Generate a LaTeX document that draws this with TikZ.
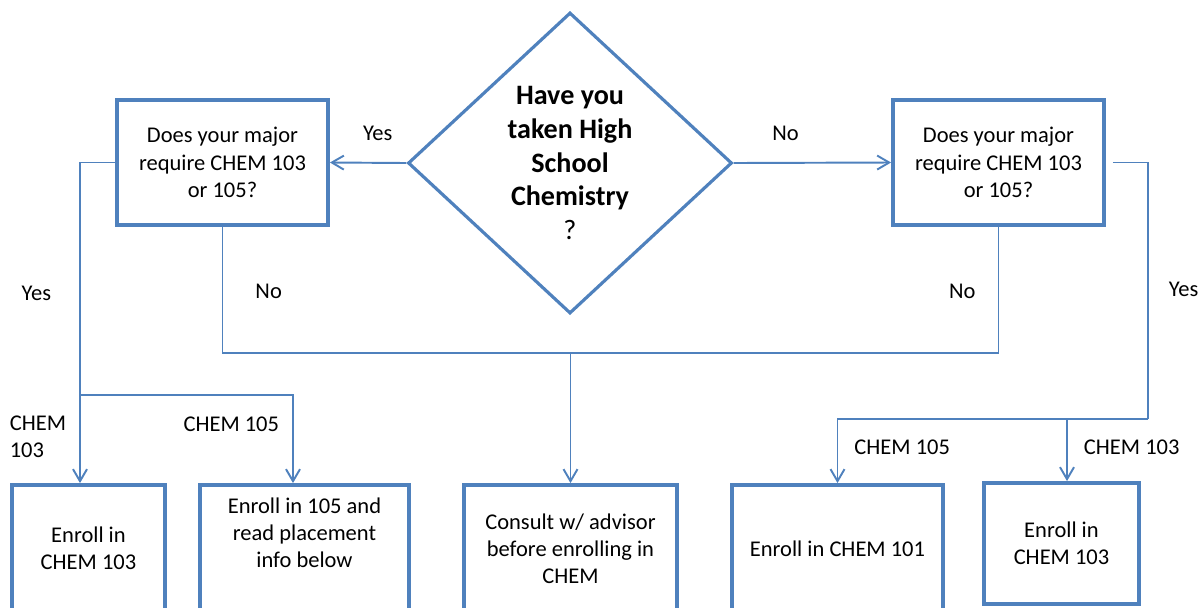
\documentclass[tikz,border=0pt]{standalone}
\usepackage{fontspec}
\setmainfont{Carlito}
\usetikzlibrary{shapes.geometric, positioning, arrows.meta, calc}
\definecolor{flowblue}{HTML}{4F81BD}

\begin{document}
\begin{tikzpicture}[
  every node/.style={font=\fontsize{12.8}{15.5}\selectfont},
  question/.style={draw=flowblue, line width=1.8pt, diamond, aspect=1.076,
                   minimum width=6.48cm, minimum height=6.02cm, inner sep=0pt,
                   align=center, font=\fontsize{16}{19.2}\selectfont\bfseries},
  ask/.style     ={draw=flowblue, line width=2.2pt, rectangle, align=center,
                   minimum width=4.22cm, minimum height=2.5cm, inner sep=2pt},
  result/.style  ={draw=flowblue, line width=2.2pt, rectangle, align=center,
                   minimum height=2.54cm, inner sep=2pt},
  link/.style    ={draw=flowblue, line width=1.1pt},
  arr/.style     ={link, -{Straight Barb[length=2.4mm, width=2.8mm]}},
  lbl/.style     ={inner sep=0pt, text depth=0pt},
]

%% ---- page: 1201 x 607 px, 1 px = 0.02 cm ----
\useasboundingbox (0,0) rectangle (24.02,-12.14);
\clip (0,0) rectangle (24.02,-12.14);

%% ---- y layout (cm) ----
%%  -3.25  HS / qL / qR
%%  -7.06  jN  (No branches meet)
%%  -7.90  jL  (left Yes split)
%%  -8.38  jR  (right Yes split)
%% -10.97  result boxes (cut by the page edge)

%% ---- Decision: high school chemistry ----
\node[question] (HS) at (11.40,-3.26)
  {Have you\\taken High\\School\\Chemistry\\{\mdseries ?}};

%% ---- Decision: major ----
\node[ask] (qL) at ( 4.45,-3.25) {Does your major\\require CHEM 103\\or 105?};
\node[ask] (qR) at (19.97,-3.25) {Does your major\\require CHEM 103\\or 105?};
\draw[arr] (HS.west) -- node[lbl, pos=0.375, above=4.2mm] (yesHS) {Yes} (qL.east);
\draw[arr] (HS.east) -- node[lbl, pos=0.33,  above=4.2mm] (noHS)  {No}  (qR.west);

%% ---- Results ----
\node[result, minimum width=3.06cm] (enL) at ( 1.77,-10.97)
  {Enroll in\\CHEM 103};
\node[result, minimum width=4.18cm] (en105) at ( 6.09,-10.97)
  {Enroll in 105 and\\read placement\\info below\rule[-18pt]{0pt}{18pt}};
\node[result, minimum width=4.26cm] (consult) at (11.41,-10.97)
  {Consult w/ advisor\\before enrolling in\\CHEM};
\node[result, minimum width=4.22cm] (en101) at (16.75,-10.97)
  {Enroll in CHEM 101};
\node[result, minimum width=3.10cm, minimum height=2.42cm] (enR) at (21.23,-10.87)
  {Enroll in\\CHEM 103};

%% ---- Left: Yes ----
\coordinate (jL) at (1.60,-7.90);
\coordinate (d105) at ([xshift=-2.3mm]en105.north);
\draw[link] (qL.west) -| node[lbl, pos=0.782, left=5.6mm] (yesL) {Yes} (jL);
\draw[arr] (jL) -- node[lbl, align=left, pos=0.47, left=2.6mm] (c103L) {CHEM\\103}
  (jL |- enL.north);
\draw[arr] (jL) -| node[lbl, pos=0.664, left=2.6mm] (c105L) {CHEM 105} (d105);

%% ---- No: both sides to advisor ----
\coordinate (jN) at (11.41,-7.06);
\draw[link] (qL.south) |- node[lbl, pos=0.254, right=6.4mm] (noL) {No} (jN);
\draw[link] (qR.south) |- node[lbl, pos=0.254, left=4.4mm]  (noR) {No} (jN);
\draw[arr] (jN) -- (consult.north);

%% ---- Right: Yes ----
\coordinate (jR) at (22.96,-8.38);
\coordinate (dR) at ([xshift=1.1mm]enR.north);
\draw[link, shorten <=1.4mm] (qR.east) -| node[lbl, pos=0.748, right=4mm] (yesR) {Yes} (jR);
\draw[arr] (jR) -| node[lbl, pos=0.72, right=3.2mm] (c105R) {CHEM 105} (en101.north);
\draw[arr] (jR -| dR) -- node[lbl, pos=0.45, right=3.2mm] (c103R) {CHEM 103} (dR);

\end{tikzpicture}
\end{document}
